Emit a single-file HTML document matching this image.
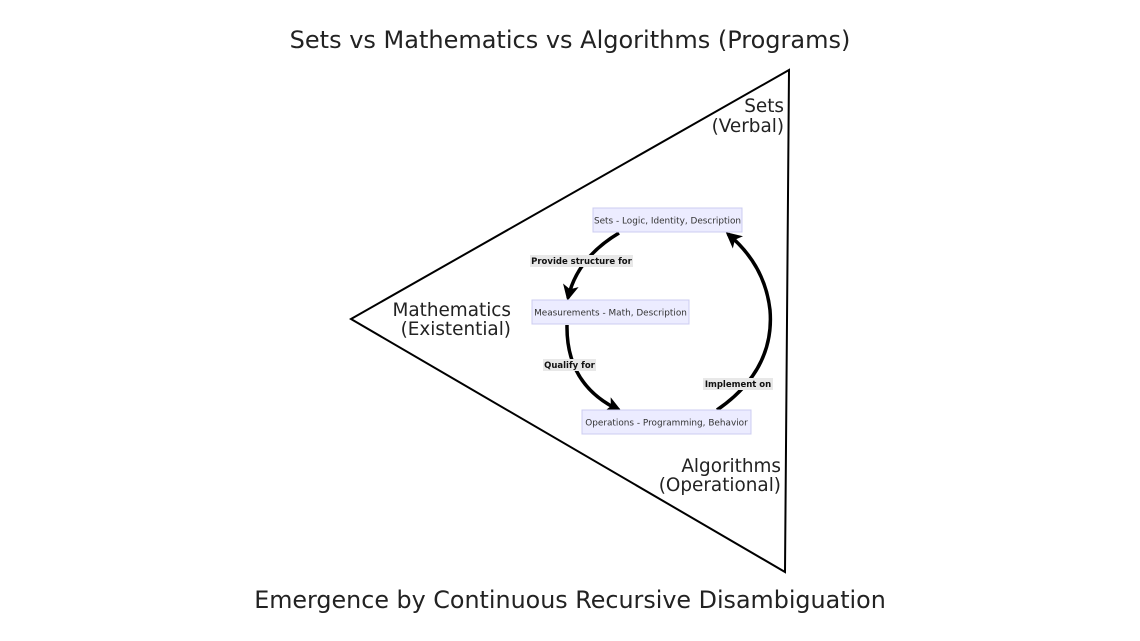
<!DOCTYPE html>
<html><head><meta charset="utf-8"><style>
html,body{margin:0;padding:0;background:#fff;}
svg{display:block;font-family:"DejaVu Sans","Liberation Sans",sans-serif;}
</style></head><body>
<svg width="1140" height="641" viewBox="0 0 1140 641" xmlns="http://www.w3.org/2000/svg">
<defs>
<marker id="ah" markerWidth="16" markerHeight="16" refX="13" refY="8" orient="auto" markerUnits="userSpaceOnUse" viewBox="0 0 16 16">
<path d="M0,0 L16,8 L0,16 L4,8 z" fill="#000"/>
</marker>
</defs>
<text x="570" y="48" font-size="24" text-anchor="middle" fill="#222">Sets vs Mathematics vs Algorithms (Programs)</text>
<text x="570" y="608" font-size="23.8" text-anchor="middle" fill="#222">Emergence by Continuous Recursive Disambiguation</text>
<polygon points="351,319 789,70 785,572" fill="none" stroke="#000" stroke-width="2"/>
<text x="784" y="112" font-size="18.4" text-anchor="end" fill="#222">Sets</text>
<text x="784" y="132" font-size="18.4" text-anchor="end" fill="#222">(Verbal)</text>
<text x="511" y="316" font-size="18.4" text-anchor="end" fill="#222">Mathematics</text>
<text x="511" y="335" font-size="18.4" text-anchor="end" fill="#222">(Existential)</text>
<text x="781" y="472" font-size="18.4" text-anchor="end" fill="#222">Algorithms</text>
<text x="781" y="491" font-size="18.4" text-anchor="end" fill="#222">(Operational)</text>
<g fill="none" stroke="#000" stroke-width="3.5">
<path d="M619,233 Q577,258 568,298" marker-end="url(#ah)"/>
<path d="M567,325 Q566,385 619,410" marker-end="url(#ah)"/>
<path d="M717,410 Q775,370 770,310 Q765,265 728,234" marker-end="url(#ah)"/>
</g>
<rect x="593" y="208" width="149" height="24" fill="#ececff" stroke="#ccccf0"/>
<text x="667.5" y="223.5" font-size="8.9" text-anchor="middle" fill="#333">Sets - Logic, Identity, Description</text>
<rect x="532" y="300" width="157" height="24" fill="#ececff" stroke="#ccccf0"/>
<text x="610.5" y="315.5" font-size="8.9" text-anchor="middle" fill="#333">Measurements - Math, Description</text>
<rect x="582" y="410" width="169" height="24" fill="#ececff" stroke="#ccccf0"/>
<text x="666.5" y="425.5" font-size="8.9" text-anchor="middle" fill="#333">Operations - Programming, Behavior</text>
<rect x="530" y="255" width="103" height="12" fill="#e8e8e8"/>
<text x="581.5" y="264" font-size="8.5" font-weight="bold" text-anchor="middle" fill="#111">Provide structure for</text>
<rect x="543" y="359" width="53" height="12" fill="#e8e8e8"/>
<text x="569.5" y="368" font-size="8.5" font-weight="bold" text-anchor="middle" fill="#111">Qualify for</text>
<rect x="703" y="378" width="70" height="12" fill="#e8e8e8"/>
<text x="738" y="387" font-size="8.5" font-weight="bold" text-anchor="middle" fill="#111">Implement on</text>
</svg>
</body></html>
